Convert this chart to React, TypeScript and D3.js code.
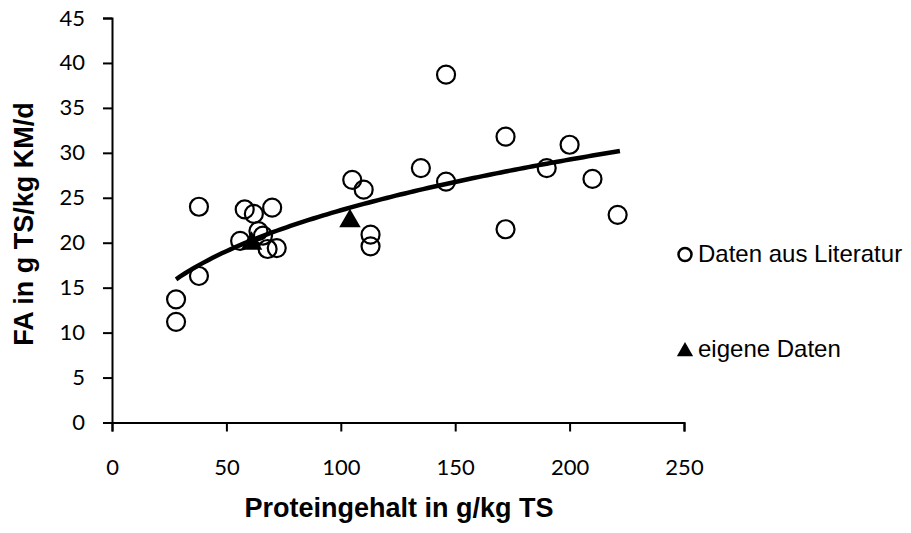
import React, { useEffect, useRef } from 'react'
import * as d3 from 'd3'

// Daten aus Literatur (Proteingehalt g/kg TS, FA g TS/kg KM/d)
const litProtein = [38, 28, 28, 38, 58, 62, 70, 56, 64, 66, 68, 72, 105, 110, 113, 113, 146, 172, 135, 146, 190, 200, 210, 221, 172]
const litFA = [24.0, 13.7, 11.2, 16.3, 23.7, 23.2, 23.9, 20.2, 21.3, 20.8, 19.3, 19.4, 27.0, 25.9, 20.9, 19.6, 38.7, 31.8, 28.3, 26.8, 28.3, 30.9, 27.1, 23.1, 21.5]

// eigene Daten
const ownProtein = [61, 104]
const ownFA = [19.9, 22.4]

// Trendlinie (Potenz): y = a * x^b
const trendA = 5.69
const trendB = 0.309
const trendRange = [28, 222]

const xTicks = [0, 50, 100, 150, 200, 250]
const yTicks = [0, 5, 10, 15, 20, 25, 30, 35, 40, 45]

const seriesNames = ['Daten aus Literatur', 'eigene Daten']

const App: React.FC = () => {
  const svgRef = useRef<SVGSVGElement | null>(null)

  useEffect(() => {
    if (!svgRef.current) return
    const svg = d3.select(svgRef.current)
    svg.selectAll('*').remove()

    const x = d3.scaleLinear().domain([0, 250]).range([112, 684])
    const y = d3.scaleLinear().domain([0, 45]).range([422.5, 18])

    const tickFont = 'Lato, "Open Sans", sans-serif'
    const bodyFont = '"Liberation Sans", Arial, sans-serif'

    // y axis
    const yAxis = svg
      .append('g')
      .attr('transform', `translate(${x(0)},0)`)
      .call(d3.axisLeft(y).tickValues(yTicks).tickSize(9).tickPadding(18))
    yAxis.select('.domain').attr('stroke', '#000').attr('stroke-width', 2)
    yAxis.selectAll('.tick line').attr('stroke', '#000').attr('stroke-width', 2)
    yAxis
      .selectAll('.tick text')
      .attr('fill', '#000')
      .style('font-family', tickFont)
      .style('font-size', '22px')

    // x axis
    const xAxis = svg
      .append('g')
      .attr('transform', `translate(0,${y(0)})`)
      .call(d3.axisBottom(x).tickValues(xTicks).tickSize(9).tickPadding(28))
    xAxis.select('.domain').attr('stroke', '#000').attr('stroke-width', 2)
    xAxis.selectAll('.tick line').attr('stroke', '#000').attr('stroke-width', 2)
    xAxis
      .selectAll('.tick text')
      .attr('fill', '#000')
      .style('font-family', tickFont)
      .style('font-size', '22px')

    // axis titles
    svg
      .append('text')
      .attr('x', 399)
      .attr('y', 517)
      .attr('text-anchor', 'middle')
      .style('font-family', bodyFont)
      .style('font-weight', 'bold')
      .style('font-size', '27px')
      .text('Proteingehalt in g/kg TS')

    svg
      .append('text')
      .attr('transform', `translate(33,224) rotate(-90)`)
      .attr('text-anchor', 'middle')
      .style('font-family', bodyFont)
      .style('font-weight', 'bold')
      .style('font-size', '27px')
      .text('FA in g TS/kg KM/d')

    // Trendlinie
    const trendX = d3.range(trendRange[0], trendRange[1] + 0.5, 2)
    const line = d3
      .line<number>()
      .x((d) => x(d))
      .y((d) => y(trendA * Math.pow(d, trendB)))
    svg
      .append('path')
      .datum(trendX)
      .attr('d', line)
      .attr('fill', 'none')
      .attr('stroke', '#000')
      .attr('stroke-width', 4.5)

    // Literaturdaten
    svg
      .append('g')
      .selectAll('circle')
      .data(litProtein)
      .enter()
      .append('circle')
      .attr('cx', (d) => x(d))
      .attr('cy', (_, i) => y(litFA[i]))
      .attr('r', 9)
      .attr('fill', 'none')
      .attr('stroke', '#000')
      .attr('stroke-width', 2.2)

    // eigene Daten
    const tri = d3.symbol().type(d3.symbolTriangle).size(200)
    svg
      .append('g')
      .selectAll('path')
      .data(ownProtein)
      .enter()
      .append('path')
      .attr('d', tri)
      .attr('transform', (d, i) => `translate(${x(d)},${y(ownFA[i])})`)
      .attr('fill', '#000')

    // Legende
    const leg = svg.append('g')
    leg
      .append('circle')
      .attr('cx', 685)
      .attr('cy', 254.5)
      .attr('r', 6.5)
      .attr('fill', 'none')
      .attr('stroke', '#000')
      .attr('stroke-width', 2.5)
    leg
      .append('text')
      .attr('x', 698)
      .attr('y', 262)
      .style('font-family', bodyFont)
      .style('font-size', '24px')
      .text(seriesNames[0])
    leg
      .append('path')
      .attr('d', d3.symbol().type(d3.symbolTriangle).size(115))
      .attr('transform', 'translate(685,351.5)')
      .attr('fill', '#000')
    leg
      .append('text')
      .attr('x', 698)
      .attr('y', 357)
      .style('font-family', bodyFont)
      .style('font-size', '24px')
      .text(seriesNames[1])
  }, [])

  return (
    <div style={{ position: 'absolute', left: 0, top: 0, background: '#fff' }}>
      <svg ref={svgRef} width={911} height={533}></svg>
    </div>
  )
}

export default App
